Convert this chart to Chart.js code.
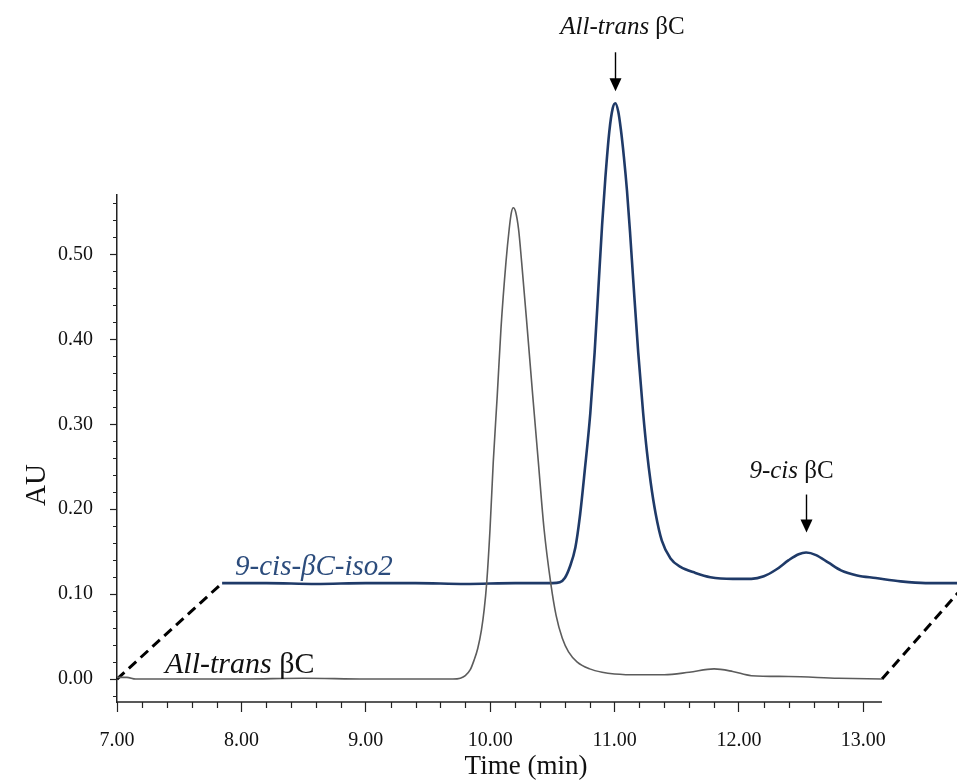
<!DOCTYPE html>
<html>
<head>
<meta charset="utf-8">
<title>HPLC chromatogram</title>
<script src="https://cdn.jsdelivr.net/npm/chart.js@4.4.1/dist/chart.umd.min.js"></script>
<style>
  html, body { margin: 0; padding: 0; background: #fff; }
  #wrap { width: 957px; height: 780px; }
</style>
</head>
<body>
<div id="wrap"><canvas id="chrom" width="957" height="780"></canvas></div>
<script>
// ── Data ────────────────────────────────────────────────────
// front trace: All-trans βC standard
const allTransTime = [7.00, 7.08, 7.15, 8.00, 8.50, 9.00, 9.50, 9.70, 9.76, 9.80, 9.84, 9.87, 9.90, 9.93, 9.952,
  9.972, 9.999, 10.025, 10.057, 10.087, 10.127, 10.153, 10.170, 10.186, 10.205, 10.228, 10.253, 10.298, 10.342,
  10.387, 10.433, 10.487, 10.53, 10.58, 10.63, 10.70, 10.80, 10.90, 11.00, 11.20, 11.40, 11.60, 11.80, 11.95,
  12.10, 12.40, 12.80, 13.15];
const allTransAU = [0.002, 0.002, 0.000, 0.000, 0.001, 0.000, 0.000, 0.000, 0.001, 0.004, 0.011, 0.022, 0.036, 0.058, 0.082,
  0.113, 0.177, 0.256, 0.334, 0.413, 0.491, 0.530, 0.549, 0.555, 0.550, 0.530, 0.491, 0.413, 0.334,
  0.256, 0.177, 0.113, 0.075, 0.048, 0.032, 0.020, 0.012, 0.008, 0.006, 0.005, 0.005, 0.008, 0.012, 0.009,
  0.004, 0.003, 0.001, 0.000];

// back trace: 9-cis-βC-iso2 (plotted with the figure's depth offset)
const isoTime = [7.845, 8.20, 8.60, 9.00, 9.40, 9.80, 10.20, 10.50, 10.56, 10.60, 10.64, 10.685, 10.72, 10.76, 10.805,
  10.84, 10.87, 10.90, 10.926, 10.958, 10.985, 11.006, 11.03, 11.05, 11.075, 11.10, 11.125, 11.15, 11.19, 11.23,
  11.26, 11.29, 11.33, 11.38, 11.45, 11.53, 11.65, 11.77, 11.95, 12.10, 12.20, 12.30, 12.40, 12.48, 12.54,
  12.62, 12.72, 12.82, 12.95, 13.10, 13.30, 13.50, 13.70, 13.83];
const isoAU = [0.113, 0.113, 0.112, 0.113, 0.113, 0.112, 0.113, 0.113, 0.114, 0.119, 0.132, 0.155, 0.190, 0.245, 0.313,
  0.385, 0.460, 0.535, 0.590, 0.645, 0.672, 0.678, 0.668, 0.648, 0.615, 0.575, 0.525, 0.470, 0.385, 0.313,
  0.268, 0.232, 0.195, 0.163, 0.142, 0.132, 0.125, 0.120, 0.118, 0.118, 0.121, 0.129, 0.140, 0.147, 0.149,
  0.146, 0.137, 0.128, 0.122, 0.119, 0.115, 0.113, 0.113, 0.113];

// dashed floor edges joining the two traces
const floorLeftTime = [7.00, 7.845];
const floorLeftAU = [0.000, 0.113];
const floorRightTime = [13.15, 13.83];
const floorRightAU = [0.000, 0.113];

const xTickValues = [7, 8, 9, 10, 11, 12, 13];
const yTickValues = [0, 0.1, 0.2, 0.3, 0.4, 0.5];
const xAxisEnd = 13.15;

// ── Annotations ─────────────────────────────────────────────
const SERIF = '"Liberation Serif", "Times New Roman", serif';

const peakNotes = [
  { t: 11.006, v: 0.678, gap: 12, len: 39, textGap: 76, dx: 7, size: 25,
    parts: [['All-trans', true], [' βC', false]] },
  { t: 12.54, v: 0.149, gap: 20, len: 38, textGap: 81, dx: -15, size: 25,
    parts: [['9-cis', true], [' βC', false]] }
];
const traceNotes = [
  { t: 7.949, v: 0.131, size: 29, color: '#2c4c7c', parts: [['9-cis-βC-iso2', true]] },
  { t: 7.386, v: 0.0165, size: 30, color: '#111', parts: [['All-trans', true], [' βC', false]] }
];

function fontFor(italic, size) {
  return (italic ? 'italic ' : '') + size + 'px ' + SERIF;
}

function richText(ctx, parts, x, y, size, color, align) {
  let w = 0;
  parts.forEach(p => { ctx.font = fontFor(p[1], size); w += ctx.measureText(p[0]).width; });
  let cx = align === 'center' ? x - w / 2 : x;
  ctx.fillStyle = color;
  ctx.textAlign = 'left';
  ctx.textBaseline = 'middle';
  parts.forEach(p => {
    ctx.font = fontFor(p[1], size);
    ctx.fillText(p[0], cx, y);
    cx += ctx.measureText(p[0]).width;
  });
}

const decor = {
  id: 'decor',
  afterDraw(chart) {
    const { ctx, scales: { x, y } } = chart;
    ctx.save();

    // x axis line stops where the front trace ends
    ctx.strokeStyle = '#222';
    ctx.lineWidth = 1.5;
    ctx.beginPath();
    ctx.moveTo(x.getPixelForValue(7) - 0.75, y.bottom);
    ctx.lineTo(x.getPixelForValue(xAxisEnd), y.bottom);
    ctx.stroke();

    // minor ticks
    ctx.lineWidth = 1.2;
    ctx.beginPath();
    for (let k = -1; k <= 28; k++) {
      if (k % 5 === 0 && k >= 0 && k <= 25) continue;
      const py = Math.round(y.getPixelForValue(k * 0.02)) + 0.5;
      ctx.moveTo(x.left - 4, py);
      ctx.lineTo(x.left, py);
    }
    for (let k = 36; k <= 65; k++) {
      if (k % 5 === 0) continue;
      const px = Math.round(x.getPixelForValue(k * 0.2)) + 0.5;
      ctx.moveTo(px, y.bottom);
      ctx.lineTo(px, y.bottom + 6);
    }
    ctx.stroke();

    // axis titles
    ctx.fillStyle = '#111';
    ctx.textAlign = 'center';
    ctx.textBaseline = 'middle';
    ctx.font = '27px ' + SERIF;
    ctx.fillText('Time (min)', 526, 767);
    ctx.save();
    ctx.translate(37, 485);
    ctx.rotate(-Math.PI / 2);
    ctx.font = '29px ' + SERIF;
    ctx.fillText('AU', 0, 0);
    ctx.restore();

    // peak arrows + labels
    peakNotes.forEach(n => {
      const px = Math.round(x.getPixelForValue(n.t)) + 0.5;
      const tip = y.getPixelForValue(n.v) - n.gap;
      ctx.strokeStyle = '#000';
      ctx.lineWidth = 1.4;
      ctx.beginPath();
      ctx.moveTo(px, tip - n.len);
      ctx.lineTo(px, tip - 10);
      ctx.stroke();
      ctx.fillStyle = '#000';
      ctx.beginPath();
      ctx.moveTo(px - 6, tip - 13);
      ctx.lineTo(px + 6, tip - 13);
      ctx.lineTo(px, tip);
      ctx.closePath();
      ctx.fill();
      richText(ctx, n.parts, px + n.dx, tip + n.gap - n.textGap, n.size, '#111', 'center');
    });

    // trace names
    traceNotes.forEach(n => {
      richText(ctx, n.parts, x.getPixelForValue(n.t), y.getPixelForValue(n.v), n.size, n.color, 'left');
    });

    ctx.restore();
  }
};

const toPoints = (ts, vs) => ts.map((t, i) => ({ x: t, y: vs[i] }));

new Chart(document.getElementById('chrom'), {
  type: 'line',
  data: {
    datasets: [
      {
        label: 'All-trans βC',
        data: toPoints(allTransTime, allTransAU),
        borderColor: '#5c5c5c',
        borderWidth: 1.6,
        cubicInterpolationMode: 'monotone',
        pointRadius: 0,
        clip: false
      },
      {
        label: '9-cis-βC-iso2',
        data: toPoints(isoTime, isoAU),
        borderColor: '#1f3a68',
        borderWidth: 2.6,
        cubicInterpolationMode: 'monotone',
        pointRadius: 0,
        clip: false
      },
      {
        label: 'floor-left',
        data: toPoints(floorLeftTime, floorLeftAU),
        borderColor: '#000',
        borderWidth: 3,
        borderDash: [10, 6],
        pointRadius: 0,
        clip: false
      },
      {
        label: 'floor-right',
        data: toPoints(floorRightTime, floorRightAU),
        borderColor: '#000',
        borderWidth: 3,
        borderDash: [10, 6],
        pointRadius: 0,
        clip: false
      }
    ]
  },
  options: {
    responsive: false,
    animation: false,
    events: [],
    layout: { padding: { top: 195, right: 0, left: 0, bottom: 0 } },
    plugins: {
      legend: { display: false },
      tooltip: { enabled: false }
    },
    scales: {
      x: {
        type: 'linear',
        min: 7,
        max: 13.753,
        afterBuildTicks: s => { s.ticks = xTickValues.map(v => ({ value: v })); },
        afterFit: s => { s.height = 78; },
        border: { display: false },
        grid: { drawOnChartArea: false, drawTicks: true, tickLength: 10, tickColor: '#222', tickWidth: 1.2 },
        ticks: {
          color: '#111',
          padding: 17,
          maxRotation: 0,
          autoSkip: false,
          font: { family: SERIF, size: 20 },
          callback: v => v.toFixed(2)
        }
      },
      y: {
        type: 'linear',
        min: -0.027,
        max: 0.57,
        afterBuildTicks: s => { s.ticks = yTickValues.map(v => ({ value: v })); },
        afterFit: s => { s.width = 117; },
        border: { display: true, color: '#222', width: 1.5 },
        grid: { drawOnChartArea: false, drawTicks: true, tickLength: 7, tickColor: '#222', tickWidth: 1.2 },
        ticks: {
          color: '#111',
          padding: 17,
          font: { family: SERIF, size: 20 },
          callback: v => v.toFixed(2)
        }
      }
    }
  },
  plugins: [decor]
});
</script>
</body>
</html>
